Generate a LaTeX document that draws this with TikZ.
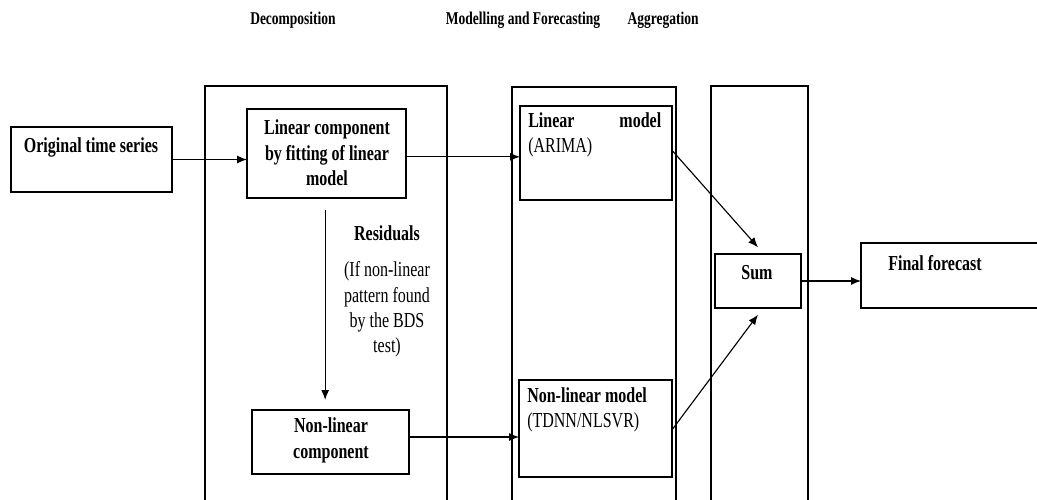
\documentclass[tikz,border=0pt]{standalone}
\usepackage{fontspec}
\setmainfont{Liberation Serif}[FakeStretch=0.75]
\usetikzlibrary{arrows.meta,calc}
\begin{document}
\begin{tikzpicture}[x=0.75pt,y=-0.75pt,
  box/.style={draw,line width=0.9pt,inner sep=0pt,outer sep=0pt,minimum width=#1},
  txt/.style={inner sep=0pt,align=center,font=\fontsize{16}{19}\selectfont\bfseries},
  rtxt/.style={inner sep=0pt,align=center,font=\fontsize{16}{19}\selectfont},
  ttl/.style={inner sep=0pt,font=\fontsize{13.5}{15}\selectfont\bfseries},
  arr/.style={line width=0.85pt,-{Latex[length=7.5pt,width=6pt]}}]
\useasboundingbox (0,0) rectangle (1037,499);
% titles
\node[ttl] (t1) at (293,20) {Decomposition};
\node[ttl] (t2) at (523,20) {Modelling and Forecasting};
\node[ttl] (t3) at (663,20) {Aggregation};
% containers
\node[box=181.5pt,minimum height=318pt] (decomp) at (326,298) {};
\node[box=123pt,minimum height=317.25pt] (model) at (594,298.5) {};
\node[box=72.75pt,minimum height=318pt] (agg) at (759.5,298) {};
% boxes
\node[box=120.75pt,minimum height=48.75pt] (orig) at (91.5,159.5) {};
\node[txt] (origT) at (91,147) {Original time series};
\node[box=119.25pt,minimum height=66.75pt] (lin) at (326.5,153.5) {};
\node[txt] (linT) at (327,153) {Linear component\\by fitting of linear\\model};
\node[box=117.75pt,minimum height=48pt] (nonlin) at (330.5,442) {};
\node[txt] (nonlinT) at (331,440.5) {Non-linear\\component};
\node[box=114pt,minimum height=70.5pt] (arima) at (596,153) {};
\node[rtxt,anchor=north west,align=left] (arimaT) at (528,112) {\textbf{\makebox[99.75pt]{Linear\hfill model}}\\(ARIMA)};
\node[box=114.75pt,minimum height=72.75pt] (nlm) at (595.5,428.5) {};
\node[rtxt,anchor=north west,align=left] (nlmT) at (527,387) {\textbf{Non-linear model}\\(TDNN/NLSVR)};
\node[box=64.5pt,minimum height=40.5pt] (sum) at (758,281) {};
\node[txt] (sumT) at (757,273) {Sum};
\node[box=138pt,minimum height=48.75pt] (final) at (953,275.5) {};
\node[txt] (finalT) at (935,263) {Final forecast};
% residual labels
\node[txt] (res) at (387,233) {Residuals};
\node[rtxt] (resT) at (387,309.5) {(If non-linear\\pattern found\\by the BDS\\test)};
% arrows
\draw[arr] (orig.east) -- (orig.east -| lin.west);
\draw[arr] ([yshift=-2.5pt]lin.east) -- ([yshift=-2.5pt]lin.east -| arima.west);
\draw[arr,shorten <=9pt,shorten >=7.5pt] ([xshift=-1pt]lin.south) -- ([xshift=-1pt]lin.south |- nonlin.north);
\draw[arr] ([yshift=3.75pt]nonlin.east) -- ([yshift=3.75pt]nonlin.east -| nlm.west);
\draw[arr] ([yshift=2pt]arima.east) -- ([yshift=5pt]sum.north);
\draw[arr] ([yshift=-1pt]nlm.east) -- ([yshift=-5pt]sum.south);
\draw[arr] (sum.east) -- (sum.east -| final.west);
\end{tikzpicture}
\end{document}
